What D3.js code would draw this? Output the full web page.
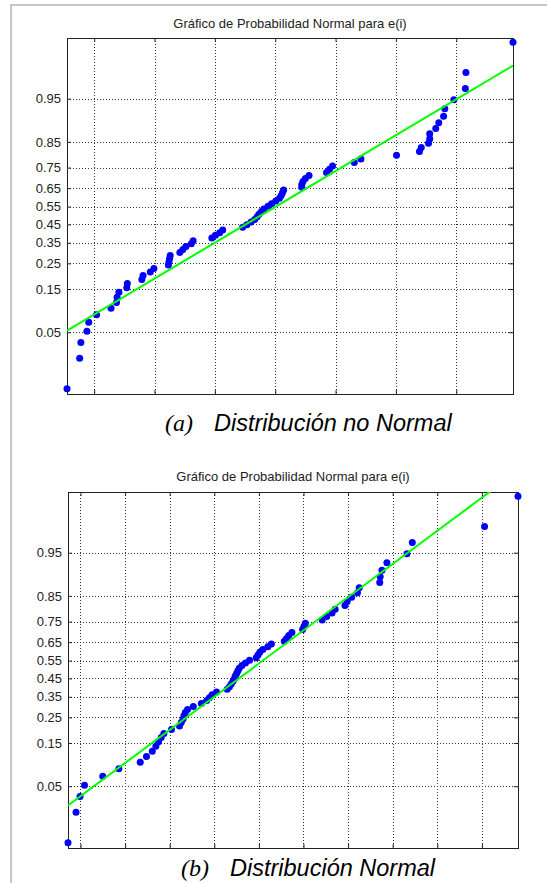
<!DOCTYPE html>
<html>
<head>
<meta charset="utf-8">
<script src="https://cdnjs.cloudflare.com/ajax/libs/d3/7.8.5/d3.min.js"></script>
<style>
body { margin: 0; background: #fff; }
svg { display: block; }
</style>
</head>
<body>
<div id="fig"></div>
<script>
var width = 547, height = 883;

// etiquetas de probabilidad del eje y
var probTicks = [0.05, 0.15, 0.25, 0.35, 0.45, 0.55, 0.65, 0.75, 0.85, 0.95];
var xTicksA = [-3, -2, -1, 0, 1, 2, 3];
var xTicksB = [-4, -3, -2, -1, 0, 1, 2, 3, 4, 5];

// residuos ordenados e(i), panel (a)
var residA = [-3.45, -3.24, -3.22, -3.12, -3.09, -2.96, -2.72, -2.63, -2.62, -2.59,
              -2.46, -2.45, -2.21, -2.19, -2.07, -2.01, -1.77, -1.76, -1.75, -1.74,
              -1.58, -1.53, -1.48, -1.39, -1.36, -1.05, -0.99, -0.92, -0.87, -0.54,
              -0.47, -0.40, -0.34, -0.30, -0.27, -0.23, -0.19, -0.12, -0.06, 0.01,
              0.07, 0.10, 0.12, 0.14, 0.44, 0.44, 0.46, 0.50, 0.56, 0.85,
              0.90, 0.95, 1.31, 1.42, 2.01, 2.39, 2.42, 2.54, 2.56, 2.56,
              2.66, 2.71, 2.79, 2.81, 2.96, 3.15, 3.16, 3.94];
// residuos ordenados e(i), panel (b)
var residB = [-4.28, -4.10, -4.01, -3.91, -3.50, -3.14, -2.66, -2.52, -2.39, -2.31,
              -2.25, -2.19, -2.13, -1.96, -1.78, -1.74, -1.70, -1.68, -1.65, -1.60,
              -1.47, -1.29, -1.17, -1.11, -1.05, -0.95, -0.71, -0.66, -0.62, -0.58,
              -0.55, -0.53, -0.50, -0.47, -0.44, -0.38, -0.30, -0.21, -0.06, -0.02,
              0.02, 0.09, 0.20, 0.28, 0.57, 0.62, 0.67, 0.74, 0.98, 1.01,
              1.04, 1.42, 1.52, 1.64, 1.71, 1.93, 1.98, 2.08, 2.21, 2.25,
              2.71, 2.72, 2.76, 2.87, 3.32, 3.44, 5.06, 5.81];

// recta de referencia: media y desviacion
var fitA = [-0.24, 1.98];
var fitB = [-0.18, 2.14];

var zLim = [-2.515, 2.50];
var titleText = "Gráfico de Probabilidad Normal para e(i)";

// inversa de la normal (Acklam)
function norminv(p) {
    var a = [-3.969683028665376e+01, 2.209460984245205e+02, -2.759285104469687e+02, 1.383577518672690e+02, -3.066479806614716e+01, 2.506628277459239e+00];
    var b = [-5.447609879822406e+01, 1.615858368580409e+02, -1.556989798598866e+02, 6.680131188771972e+01, -1.328068155288572e+01];
    var c = [-7.784894002430293e-03, -3.223964580411365e-01, -2.400758277161838e+00, -2.549671010243041e+00, 4.374664141464968e+00, 2.938163982698783e+00];
    var d = [7.784695709041462e-03, 3.224671290700398e-01, 2.445134137142996e+00, 3.754408661907416e+00];
    var q, r;
    if (p < 0.02425) {
        q = Math.sqrt(-2 * Math.log(p));
        return (((((c[0]*q+c[1])*q+c[2])*q+c[3])*q+c[4])*q+c[5]) / ((((d[0]*q+d[1])*q+d[2])*q+d[3])*q+1);
    }
    if (p > 1 - 0.02425) {
        q = Math.sqrt(-2 * Math.log(1 - p));
        return -(((((c[0]*q+c[1])*q+c[2])*q+c[3])*q+c[4])*q+c[5]) / ((((d[0]*q+d[1])*q+d[2])*q+d[3])*q+1);
    }
    q = p - 0.5; r = q * q;
    return (((((a[0]*r+a[1])*r+a[2])*r+a[3])*r+a[4])*r+a[5])*q / (((((b[0]*r+b[1])*r+b[2])*r+b[3])*r+b[4])*r+1);
}

var svg = d3.select("#fig").append("svg")
    .attr("width", width)
    .attr("height", height);

// marco gris del documento
svg.append("line").attr("x1", 10).attr("x2", width).attr("y1", 5).attr("y2", 5)
    .attr("stroke", "#c6c6c6").attr("stroke-width", 2);
svg.append("line").attr("x1", 11).attr("x2", 11).attr("y1", 4).attr("y2", height)
    .attr("stroke", "#c6c6c6").attr("stroke-width", 2);

function drawPanel(id, box, resid, xTicks, fit, titleY, cap) {
    var n = resid.length;
    var pts = resid.map(function(v, i) { return {x: v, z: norminv((i + 0.5) / n)}; });

    var x = d3.scaleLinear().domain(d3.extent(resid)).range([box.left, box.right]);
    var y = d3.scaleLinear().domain(zLim).range([box.bottom, box.top]);
    var zTicks = probTicks.map(norminv);

    var g = svg.append("g");

    g.append("text")
        .attr("x", (box.left + box.right) / 2)
        .attr("y", titleY)
        .attr("text-anchor", "middle")
        .style("font-family", "'Liberation Sans', Arial, sans-serif")
        .style("font-size", "13px")
        .attr("fill", "#222")
        .text(titleText);

    // rejilla punteada
    g.selectAll(".vgrid").data(xTicks).enter().append("line")
        .attr("x1", function(d) { return Math.round(x(d)) + 0.5; })
        .attr("x2", function(d) { return Math.round(x(d)) + 0.5; })
        .attr("y1", box.top).attr("y2", box.bottom)
        .attr("stroke", "#333").attr("stroke-dasharray", "1,2")
        .attr("shape-rendering", "crispEdges");
    g.selectAll(".hgrid").data(zTicks).enter().append("line")
        .attr("x1", box.left).attr("x2", box.right)
        .attr("y1", function(d) { return Math.round(y(d)) + 0.5; })
        .attr("y2", function(d) { return Math.round(y(d)) + 0.5; })
        .attr("stroke", "#333").attr("stroke-dasharray", "1,2")
        .attr("shape-rendering", "crispEdges");

    // ejes con marcas hacia dentro
    var fmt = d3.format(".2f");
    var yl = g.append("g").attr("transform", "translate(" + box.left + ",0)")
        .call(d3.axisLeft(y).tickValues(zTicks).tickSizeInner(-4).tickSizeOuter(0).tickPadding(6)
            .tickFormat(function(d, i) { return fmt(probTicks[i]); }));
    g.append("g").attr("transform", "translate(" + box.right + ",0)")
        .call(d3.axisRight(y).tickValues(zTicks).tickSizeInner(-4).tickSizeOuter(0).tickFormat(""));
    g.append("g").attr("transform", "translate(0," + box.bottom + ")")
        .call(d3.axisBottom(x).tickValues(xTicks).tickSizeInner(-4).tickSizeOuter(0).tickFormat(""));
    g.append("g").attr("transform", "translate(0," + box.top + ")")
        .call(d3.axisTop(x).tickValues(xTicks).tickSizeInner(-4).tickSizeOuter(0).tickFormat(""));
    g.selectAll(".domain").remove();
    g.selectAll(".tick line").attr("stroke", "#222");
    yl.selectAll("text")
        .style("font-family", "'Liberation Sans', Arial, sans-serif")
        .style("font-size", "13px")
        .attr("fill", "#222");

    g.append("rect")
        .attr("x", box.left + 0.5).attr("y", box.top + 0.5)
        .attr("width", box.right - box.left).attr("height", box.bottom - box.top)
        .attr("fill", "none").attr("stroke", "#222")
        .attr("shape-rendering", "crispEdges");

    // puntos
    g.selectAll(".pt").data(pts).enter().append("circle")
        .attr("cx", function(d) { return x(d.x); })
        .attr("cy", function(d) { return y(d.z); })
        .attr("r", 3.5)
        .attr("fill", "#0000ff");

    // recta de referencia recortada al area
    g.append("clipPath").attr("id", "clip" + id).append("rect")
        .attr("x", box.left).attr("y", box.top)
        .attr("width", box.right - box.left).attr("height", box.bottom - box.top);
    var ends = x.domain().map(function(v) { return {x: v, z: (v - fit[0]) / fit[1]}; });
    g.append("path")
        .datum(ends)
        .attr("clip-path", "url(#clip" + id + ")")
        .attr("d", d3.line().x(function(d) { return x(d.x); }).y(function(d) { return y(d.z); }))
        .attr("stroke", "#00ff00").attr("stroke-width", 2).attr("fill", "none");

    // pie de figura
    var c = svg.append("text").attr("y", cap.y).attr("fill", "#000");
    c.append("tspan").attr("x", cap.x)
        .style("font-family", "'Liberation Serif', 'Times New Roman', serif")
        .style("font-style", "italic").style("font-size", "24px")
        .text("(" + cap.letter + ")");
    c.append("tspan").attr("x", cap.x + 49)
        .style("font-family", "'Liberation Sans', Arial, sans-serif")
        .style("font-style", "italic").style("font-size", "23.5px")
        .text(cap.text);
}

drawPanel("a", {left: 67, right: 513, top: 38, bottom: 394}, residA, xTicksA, fitA, 28,
    {x: 165, y: 431, letter: "a", text: "Distribución no Normal"});
drawPanel("b", {left: 68, right: 518, top: 492, bottom: 848}, residB, xTicksB, fitB, 481,
    {x: 181, y: 876, letter: "b", text: "Distribución Normal"});
</script>
</body>
</html>
